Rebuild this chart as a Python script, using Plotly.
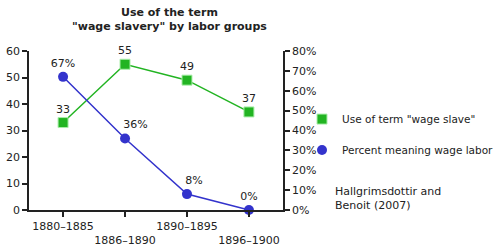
import plotly.graph_objects as go

periods = ["1880–1885", "1886–1890", "1890–1895", "1896–1900"]
tick_labels = ["1880–1885", "<br>1886–1890", "1890–1895", "<br>1896–1900"]
use_counts = [33, 55, 49, 37]
pct_wage_labor = [67, 36, 8, 0]
# padding (non-breaking spaces) to nudge some percentage labels right of their points
pct_label_pad = [0, 6, 4, 0]

green = "#22b422"
blue = "#3333cc"
font = "DejaVu Sans"
txt = "#222222"

xs = list(range(len(periods)))

fig = go.Figure()
# lines
fig.add_trace(go.Scatter(x=xs, y=use_counts, mode="lines", line=dict(color=green, width=1.5),
                         showlegend=False, hoverinfo="skip"))
fig.add_trace(go.Scatter(x=xs, y=pct_wage_labor, mode="lines", yaxis="y2",
                         line=dict(color=blue, width=1.5), showlegend=False, hoverinfo="skip"))
# markers + labels
fig.add_trace(go.Scatter(
    x=xs, y=use_counts, mode="markers+text",
    name='Use of term "wage slave"',
    marker=dict(symbol="square", size=10, color=green, line=dict(color="#aaeeaa", width=1)),
    text=[str(v) for v in use_counts], textposition="top center",
    textfont=dict(family=font, size=11, color=txt),
    cliponaxis=False, legendgroup="a",
))
fig.add_trace(go.Scatter(
    x=xs, y=pct_wage_labor, mode="markers+text", yaxis="y2",
    name="Percent meaning wage labor",
    marker=dict(symbol="circle", size=10, color=blue),
    text=["\u00a0" * p + f"{v}%" for v, p in zip(pct_wage_labor, pct_label_pad)],
    textposition="top center",
    textfont=dict(family=font, size=11, color=txt),
    cliponaxis=False, legendgroup="b",
))

axis_common = dict(showline=True, linecolor="#222222", linewidth=1.5, ticks="outside",
                   ticklen=5, tickwidth=1.5, tickcolor="#222222", showgrid=False, zeroline=False,
                   automargin=False, tickfont=dict(family=font, size=11, color=txt))

fig.update_layout(
    width=500, height=249,
    margin=dict(l=29, r=217, t=51, b=39, autoexpand=False),
    paper_bgcolor="white", plot_bgcolor="white",
    font=dict(family=font, size=11, color=txt),
    xaxis=dict(range=[-0.55, 3.55], tickvals=xs, ticktext=tick_labels, tickangle=0, **axis_common),
    yaxis=dict(range=[0, 60], dtick=10, **axis_common),
    yaxis2=dict(range=[0, 80], dtick=10, ticksuffix="%", overlaying="y", side="right", **axis_common),
    showlegend=True,
    legend=dict(x=0.604, y=0.580, xref="container", yref="container", xanchor="left", yanchor="top",
                tracegroupgap=12, font=dict(family=font, size=10.5, color=txt), itemwidth=30,
                borderwidth=0, bgcolor="rgba(0,0,0,0)"),
    annotations=[
        dict(text="<b>Use of the term<br>\"wage slavery\" by labor groups</b>", xref="paper", yref="paper",
             x=0.555, y=1.10, xanchor="center", yanchor="bottom", showarrow=False,
             font=dict(family=font, size=11, color=txt)),
        dict(text="Hallgrimsdottir and<br>Benoit (2007)", xref="paper", yref="paper",
             x=1.197, y=0.075, xanchor="left", yanchor="middle", align="left", showarrow=False,
             font=dict(family=font, size=11, color=txt)),
    ],
)
fig.write_html("out.html")
